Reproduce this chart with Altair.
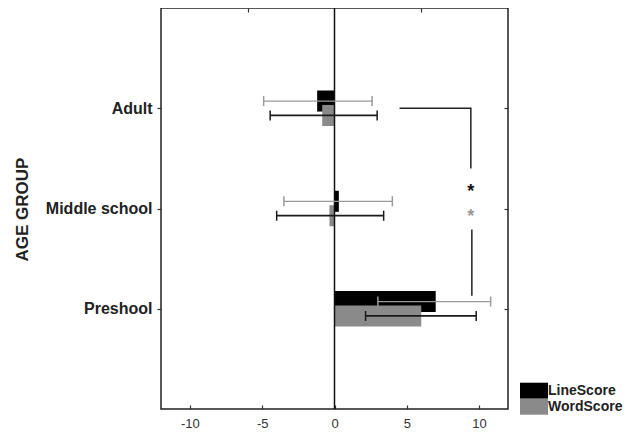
import json
import altair as alt
import pandas as pd

# ---- data ----
groups = ["Adult", "Middle school", "Preshool"]
series_names = ["LineScore", "WordScore"]
line_mean = [-1.2, 0.3, 7.0]
line_lo = [-4.9, -3.5, 3.0]
line_hi = [2.6, 4.0, 10.8]
word_mean = [-0.85, -0.35, 6.0]
word_lo = [-4.45, -4.0, 2.15]
word_hi = [2.95, 3.4, 9.8]
x_ticks = [-10, -5, 0, 5, 10]

# significance bracket (data space) and stars
bracket_seg = ["a", "a", "a", "b", "b"]
bracket_x = [4.5, 9.43, 9.43, 9.5, 9.5]
bracket_y = [1.0, 1.0, 1.6, 2.21, 2.87]
star_x = [9.43, 9.43]
star_y = [1.82, 2.06]
star_series = ["LineScore", "WordScore"]

rows = []
for i, g in enumerate(groups):
    rows.append(dict(group=g, series="LineScore", mean=line_mean[i], lo=line_lo[i], hi=line_hi[i]))
    rows.append(dict(group=g, series="WordScore", mean=word_mean[i], lo=word_lo[i], hi=word_hi[i]))
df = pd.DataFrame(rows)

br = pd.DataFrame(dict(seg=bracket_seg, x=bracket_x, y=bracket_y, order=list(range(len(bracket_x)))))
st = pd.DataFrame(dict(x=star_x, y=star_y, series=star_series))

FONT = "Liberation Sans"
xscale = alt.Scale(domain=[-12, 12], nice=False, zero=False)
yscale = alt.Scale(domain=[0, 4], reverse=True, nice=False, zero=False)

base = alt.Chart(df).transform_calculate(
    gi="indexof(%s, datum.group) + 1" % json.dumps(groups),
    off="datum.series == 'LineScore' ? -0.072 : 0.072",
).transform_calculate(
    yv="datum.gi + datum.off",
    z="0",
    ecol="datum.series == 'LineScore' ? '#9a9a9a' : '#1a1a1a'",
    ew="datum.series == 'LineScore' ? 1.3 : 1.7",
).transform_calculate(
    y0="datum.yv - 0.105",
    y1="datum.yv + 0.105",
)

color = alt.Color(
    "series:N",
    scale=alt.Scale(domain=series_names, range=["#000000", "#8a8a8a"]),
    legend=alt.Legend(
        title=None, orient="none", legendX=365, legendY=374.7,
        symbolType="M-1.75,-1H1.75V1H-1.75Z", symbolSize=256, symbolStrokeWidth=0,
        symbolOpacity=1,
        labelFont=FONT, labelFontSize=14, labelFontWeight="bold", labelColor="#222222",
        labelOffset=6, rowPadding=0, padding=0, labelLimit=200,
    ),
)

x_bottom = alt.Axis(orient="bottom", values=x_ticks, labelExpr="toString(datum.value)",
                    domain=False, grid=False, tickSize=4, offset=-4, tickColor="#333333",
                    tickWidth=1.2, labelFont=FONT, labelFontSize=13, labelColor="#333333",
                    labelPadding=8, title=None)
y_left = alt.Axis(orient="left", values=[1, 2, 3],
                  labelExpr="%s[datum.value - 1]" % json.dumps(groups),
                  domain=False, grid=False, tickSize=4, tickColor="#333333", tickWidth=1.2,
                  labelFont=FONT, labelFontSize=16, labelFontWeight="bold", labelColor="#222222",
                  labelPadding=5, title="AGE GROUP", titleFont=FONT, titleFontSize=17,
                  titleFontWeight="bold", titleColor="#222222", titleX=-139, titleY=201,
                  titleAngle=-90, titleAlign="center", titleBaseline="middle")
x_top = alt.Axis(orient="top", values=[-6, 6], labels=False, domain=False, grid=False,
                 tickSize=4, offset=-4, tickColor="#333333", tickWidth=1.2, title=None)
y_right = alt.Axis(orient="right", values=[1, 2, 3], labels=False, domain=False, grid=False,
                   tickSize=4, offset=-4, tickColor="#333333", tickWidth=1.2, title=None)

bars_line = base.transform_filter("datum.series == 'LineScore'").mark_rect(opacity=1).encode(
    x=alt.X("mean:Q", scale=xscale, axis=x_bottom),
    x2="z:Q",
    y=alt.Y("y0:Q", scale=yscale, axis=y_left),
    y2="y1:Q",
    color=color,
)
bars_word = base.transform_filter("datum.series == 'WordScore'").mark_rect(opacity=1).encode(
    x=alt.X("mean:Q", scale=xscale, axis=x_top),
    x2="z:Q",
    y=alt.Y("y0:Q", scale=yscale, axis=y_right),
    y2="y1:Q",
    color=color,
)

zero_rule = alt.Chart(pd.DataFrame({"v": [0]})).mark_rule(color="#111111", strokeWidth=1.5).encode(
    x=alt.X("v:Q", scale=xscale, axis=None)
)

err_line = base.mark_rule(opacity=1).encode(
    x=alt.X("lo:Q", scale=xscale, axis=None),
    x2="hi:Q",
    y=alt.Y("yv:Q", scale=yscale, axis=None),
    color=alt.Color("ecol:N", scale=None),
    strokeWidth=alt.StrokeWidth("ew:Q", scale=None),
)
err_lo = base.mark_tick(orient="vertical", size=10, thickness=1.5, opacity=1).encode(
    x=alt.X("lo:Q", scale=xscale, axis=None),
    y=alt.Y("yv:Q", scale=yscale, axis=None),
    color=alt.Color("ecol:N", scale=None),
)
err_hi = base.mark_tick(orient="vertical", size=10, thickness=1.5, opacity=1).encode(
    x=alt.X("hi:Q", scale=xscale, axis=None),
    y=alt.Y("yv:Q", scale=yscale, axis=None),
    color=alt.Color("ecol:N", scale=None),
)

bracket = alt.Chart(br).mark_line(color="#222222", strokeWidth=1.5).encode(
    x=alt.X("x:Q", scale=xscale, axis=None),
    y=alt.Y("y:Q", scale=yscale, axis=None),
    detail="seg:N",
    order="order:Q",
)
stars = alt.Chart(st).transform_calculate(
    scol="datum.series == 'LineScore' ? '#111111' : '#9a9a9a'"
).mark_text(text="*", fontSize=18, font=FONT, fontWeight="bold", baseline="middle", dy=2).encode(
    x=alt.X("x:Q", scale=xscale, axis=None),
    y=alt.Y("y:Q", scale=yscale, axis=None),
    color=alt.Color("scol:N", scale=None),
)

chart = alt.layer(
    bars_line, bars_word, zero_rule, err_line, err_lo, err_hi, bracket, stars
).resolve_axis(x="independent", y="independent").properties(
    width=347, height=401,
    autosize=alt.AutoSizeParams(type="none"),
    padding={"left": 153, "top": 0, "right": 115, "bottom": 25},
    background="white",
).configure_view(stroke="#222222", strokeWidth=1.5).configure_legend(symbolOpacity=1)

chart.save("out.html", embed_options={"renderer": "svg", "actions": False})
